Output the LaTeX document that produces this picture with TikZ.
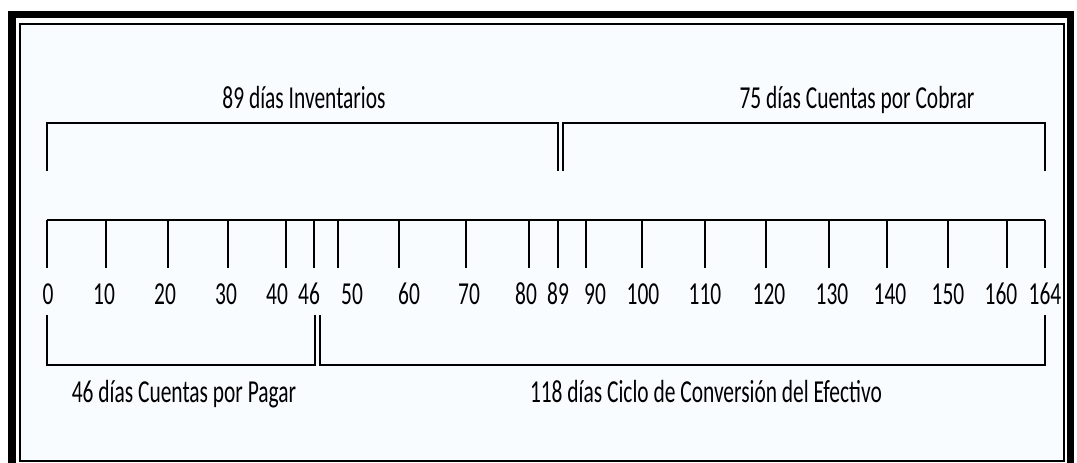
\documentclass[tikz,border=0pt]{standalone}
\usepackage{fontspec}
\setmainfont[FakeStretch=0.67]{Carlito}
\usepackage{tikz}
\usetikzlibrary{positioning}
\usepackage{xcolor}
\definecolor{paper}{RGB}{248,252,254}

\begin{document}
\begin{tikzpicture}[x=1pt,y=-1pt,font=\fontsize{32}{38}\selectfont,
    ln/.style={line width=2pt,black},
    num/.style={anchor=base,inner sep=0pt},
    txt/.style={anchor=base,inner sep=0pt}]
    \useasboundingbox (0,0) rectangle (1077,463);
    % frame
    \fill[black] (8,11) rectangle (1074,463);
    \fill[white] (16,18) rectangle (1067,463);
    \fill[paper] (20,24) rectangle (1064,461);
    \draw[line width=1.6pt] (20,24) -- (1064,24) -- (1064,461) -- (20,461) -- cycle;
    % scale
    \coordinate (a0) at (47,220);
    \coordinate (a164) at (1045,220);
    \draw[ln] (a0) -- (a164);
    \foreach \v/\x/\l in {0/47/48,10/106/104,20/168/165,30/228/226,40/286/277,46/314/309,
        50/338/352,60/399/409,70/466/469,80/529/526,89/558/558,90/586/595,100/642/643,
        110/705/705,120/766/769,130/829/832,140/887/890,150/948/948,160/1007/1001,164/1045/1045}{
      \coordinate (t\v) at (\x,220);
      \draw[ln] (t\v) -- ++(0,48);
      \node[num] (n\v) at (\l,304) {\v};
    }
    % top brackets
    \draw[ln] (47,171) |- (558,123) -- (558,171);
    \draw[ln] (563,171) |- (1045,123) -- (1045,171);
    \node[txt] (inv) at (304,108) {89 días Inventarios};
    \node[txt] (cxc) at (857,108) {75 días Cuentas por Cobrar};
    % bottom brackets
    \draw[ln] (47,315) |- (315,365) -- (315,315);
    \draw[ln] (320,315) |- (1045,365) -- (1045,315);
    \node[txt] (cxp) at (184,402) {46 días Cuentas por Pagar};
    \node[txt] (cce) at (706,402) {118 días Ciclo de Conversión del Efectivo};
  \end{tikzpicture}
\end{document}
